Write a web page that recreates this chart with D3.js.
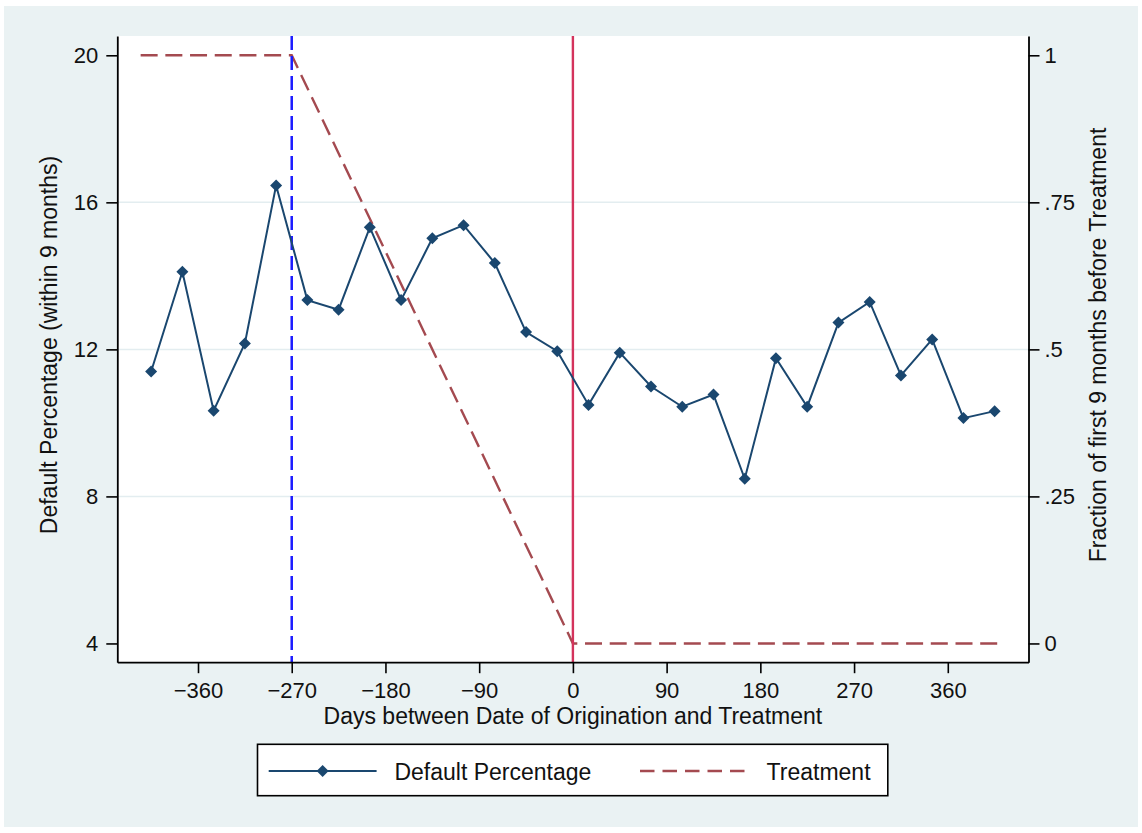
<!DOCTYPE html>
<html><head><meta charset="utf-8">
<script src="https://cdn.jsdelivr.net/npm/d3@7"></script>
<style>
body{margin:0;background:#fff}
svg{display:block}
text{font-family:"Liberation Sans",Arial,Helvetica,sans-serif;fill:#111}
</style>
</head><body>
<svg id="chart" width="1142" height="833"></svg>
<script>
// ---- data ----
const days = [-405,-375,-345,-315,-285,-255,-225,-195,-165,-135,-105,-75,-45,-15,15,45,75,105,135,165,195,225,255,285,315,345,375,405];
const defaultPct = [11.40,14.11,10.33,12.16,16.46,13.34,13.08,15.32,13.34,15.02,15.38,14.35,12.47,11.95,10.49,11.91,10.99,10.44,10.77,8.48,11.76,10.44,12.73,13.29,11.29,12.27,10.13,10.32];
const treatDays = [-422,-270,0,410];
const treatFrac = [1,1,0,0];
const originationLine = [-270];
const treatmentLine = [0];
const xTicks = [-360,-270,-180,-90,0,90,180,270,360];
const yTicks = [4,8,12,16,20];
const yGrid = [8,12,16];
const y2Ticks = [0,0.25,0.5,0.75,1];
const y2Labels = ["0",".25",".5",".75","1"];
const legendLabels = ["Default Percentage","Treatment"];
const xTitle = "Days between Date of Origination and Treatment";
const yTitle = "Default Percentage (within 9 months)";
const y2Title = "Fraction of first 9 months before Treatment";

// ---- layout ----
const L = 117.3, R = 1028.5, T = 36, B = 662.2;
const svg = d3.select("#chart");
const navy = "#1a476f", maroon = "#a44a50";

svg.append("rect").attr("x",4).attr("y",6).attr("width",1134).attr("height",821).attr("fill","#eaf2f3");
svg.append("rect").attr("x",L).attr("y",T).attr("width",R-L).attr("height",B-T).attr("fill","#fff");

const x = d3.scaleLinear().domain([-437.5,437.5]).range([L,R]);
const yDom = [3.49,20.525];
const y = d3.scaleLinear().domain(yDom).range([B,T]);
const y2 = d3.scaleLinear().domain([(yDom[0]-4)/16,(yDom[1]-4)/16]).range([B,T]);

// gridlines
svg.append("g").selectAll("line").data(yGrid).join("line")
  .attr("x1",L).attr("x2",R).attr("y1",d=>y(d)).attr("y2",d=>y(d))
  .attr("stroke","#e3edf0").attr("stroke-width",1.5);

// treatment dashed line
const tData = treatDays.map((d,i)=>[d,treatFrac[i]]);
svg.append("path").datum(tData)
  .attr("d",d3.line().x(d=>x(d[0])).y(d=>y2(d[1])))
  .attr("fill","none").attr("stroke",maroon).attr("stroke-width",2.4)
  .attr("stroke-dasharray","17,7.7").attr("stroke-dashoffset",17.5);

// vertical reference lines
svg.append("g").selectAll("line").data(originationLine).join("line")
  .attr("x1",d=>x(d)).attr("x2",d=>x(d)).attr("y1",T).attr("y2",B)
  .attr("stroke","#1c1cff").attr("stroke-width",2.5).attr("stroke-dasharray","14,6");
svg.append("g").selectAll("line").data(treatmentLine).join("line")
  .attr("x1",d=>x(d)).attr("x2",d=>x(d)).attr("y1",T).attr("y2",B)
  .attr("stroke","#d4335c").attr("stroke-width",2.4);

// default percentage series
const sData = days.map((d,i)=>[d,defaultPct[i]]);
svg.append("path").datum(sData)
  .attr("d",d3.line().x(d=>x(d[0])).y(d=>y(d[1])))
  .attr("fill","none").attr("stroke",navy).attr("stroke-width",2);
const diamond = r => `M0,${-r}L${r},0L0,${r}L${-r},0Z`;
svg.append("g").selectAll("path").data(sData).join("path")
  .attr("d",diamond(6))
  .attr("transform",d=>`translate(${x(d[0])},${y(d[1])})`)
  .attr("fill",navy);

// axes
function styleAxis(g){
  g.select(".domain").attr("stroke","#000").attr("stroke-width",1.8);
  g.selectAll(".tick line").attr("stroke","#000").attr("stroke-width",1.6);
  g.selectAll(".tick text").attr("font-size",22).attr("font-family",'"Liberation Sans",Arial,sans-serif').attr("fill","#111");
  g.attr("font-size",null).attr("font-family",null);
}
svg.append("g").attr("transform",`translate(0,${B})`)
  .call(d3.axisBottom(x).tickValues(xTicks).tickSize(11).tickSizeOuter(0).tickPadding(9.5))
  .call(styleAxis);
svg.append("g").attr("transform",`translate(${L},0)`)
  .call(d3.axisLeft(y).tickValues(yTicks).tickSize(11).tickSizeOuter(0).tickPadding(8))
  .call(styleAxis);
svg.append("g").attr("transform",`translate(${R},0)`)
  .call(d3.axisRight(y2).tickValues(y2Ticks).tickFormat((d,i)=>y2Labels[i]).tickSize(11).tickSizeOuter(0).tickPadding(5))
  .call(styleAxis);

// titles
svg.append("text").attr("x",(L+R)/2).attr("y",724).attr("text-anchor","middle").attr("font-size",23).text(xTitle);
svg.append("text").attr("transform","translate(57,345) rotate(-90)").attr("text-anchor","middle").attr("font-size",23).text(yTitle);
svg.append("text").attr("transform","translate(1106,345) rotate(-90)").attr("text-anchor","middle").attr("font-size",23).text(y2Title);

// legend
const lg = svg.append("g");
lg.append("rect").attr("x",257.5).attr("y",744.3).attr("width",630.3).attr("height",51.4)
  .attr("fill","#fff").attr("stroke","#000").attr("stroke-width",1.6);
lg.append("line").attr("x1",268.7).attr("x2",376.6).attr("y1",771).attr("y2",771).attr("stroke",navy).attr("stroke-width",2);
lg.append("path").attr("d",diamond(6)).attr("transform","translate(322.6,771)").attr("fill",navy);
lg.append("text").attr("x",394.4).attr("y",779.5).attr("font-size",23).text(legendLabels[0]);
lg.append("line").attr("x1",640).attr("x2",748).attr("y1",771).attr("y2",771).attr("stroke",maroon).attr("stroke-width",2.4).attr("stroke-dasharray","14.5,8");
lg.append("text").attr("x",766.6).attr("y",779.5).attr("font-size",23).text(legendLabels[1]);
</script>
</body></html>
